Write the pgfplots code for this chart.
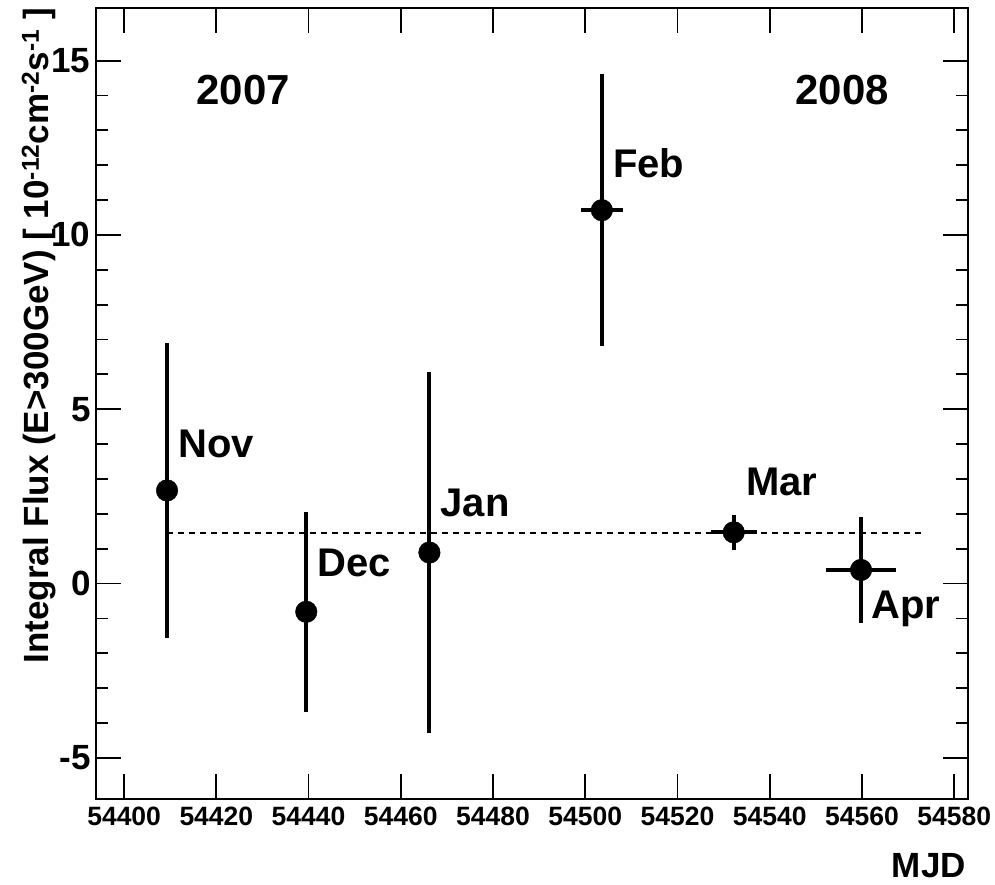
\documentclass[border=0pt]{standalone}
\usepackage{fontspec}
\setmainfont{Liberation Sans}
\usepackage{pgfplots}
\pgfplotsset{compat=1.18}
\usepackage{pgfplotstable}

\newcommand{\fs}[1]{\bfseries\fontsize{#1}{#1}\selectfont}

% MJD, flux, MJD error, flux error
\pgfplotstableread{
x        y      ex    ey
54409.3  2.67   0     4.23
54439.5  -0.81  0     2.87
54466.2  0.89   0     5.17
54503.6  10.71  4.5   3.91
54532.2  1.47   5.0   0.50
54559.8  0.39   7.6   1.52
}\fluxdata

\begin{document}
\begin{tikzpicture}[x=1pt,y=1pt]
\useasboundingbox (0,0) rectangle (995,884);
\begin{axis}[
  at={(96pt,85pt)}, anchor=south west,
  scale only axis,
  width=872pt, height=791pt,
  xmin=54393.9, xmax=54583.0,
  ymin=-6.18, ymax=16.51,
  axis line style={line width=2pt},
  every tick/.style={black, line width=1.8pt},
  tick align=inside,
  major tick length=25pt,
  minor tick length=12pt,
  xtick={54400,54420,...,54580},
  xticklabels={54400,54420,54440,54460,54480,54500,54520,54540,54560,54580},
  minor x tick num=3,
  ytick={-5,0,5,10,15},
  yticklabels={-5,0,5,10,15},
  minor y tick num=4,
  scaled ticks=false,
  x tick label style={font=\fs{26.5}, yshift=-4pt},
  y tick label style={font=\fs{35}, xshift=-2pt},
  clip=false,
]
\addplot[line width=2pt, dash pattern=on 6pt off 5pt]
  coordinates {(54409.3,1.46) (54573.5,1.46)};

\addplot[black, only marks, mark=*, mark size=10.8pt,
  error bars/.cd, x dir=both, x explicit, y dir=both, y explicit,
  error mark=none,
  error bar style={line width=4pt, black}]
  table[x=x, y=y, x error=ex, y error=ey] {\fluxdata};

\node[font=\fs{42}, anchor=center] at (axis cs:54425.8,14.15) {2007};
\node[font=\fs{42}, anchor=center] at (axis cs:54555.7,14.15) {2008};
\node[font=\fs{40}, anchor=base west, inner sep=0pt] at (axis cs:54506.0,11.66) {Feb};
\node[font=\fs{40}, anchor=base west, inner sep=0pt] at (axis cs:54411.7,3.63) {Nov};
\node[font=\fs{40}, anchor=base west, inner sep=0pt] at (axis cs:54441.9,0.19) {Dec};
\node[font=\fs{40}, anchor=base west, inner sep=0pt] at (axis cs:54468.6,1.91) {Jan};
\node[font=\fs{40}, anchor=base west, inner sep=0pt] at (axis cs:54534.9,2.53) {Mar};
\node[font=\fs{40}, anchor=base west, inner sep=0pt] at (axis cs:54562.0,-0.99) {Apr};
\end{axis}
\node[font=\fs{35}, anchor=base east, inner sep=0pt] at (966,7) {MJD};
\node[font=\fs{35}, rotate=90, anchor=base east, inner sep=0pt] at (48,876)
  {Integral Flux (E>300GeV) [ 10\textsuperscript{-12}cm\textsuperscript{-2}s\textsuperscript{-1} ]};
\end{tikzpicture}
\end{document}
